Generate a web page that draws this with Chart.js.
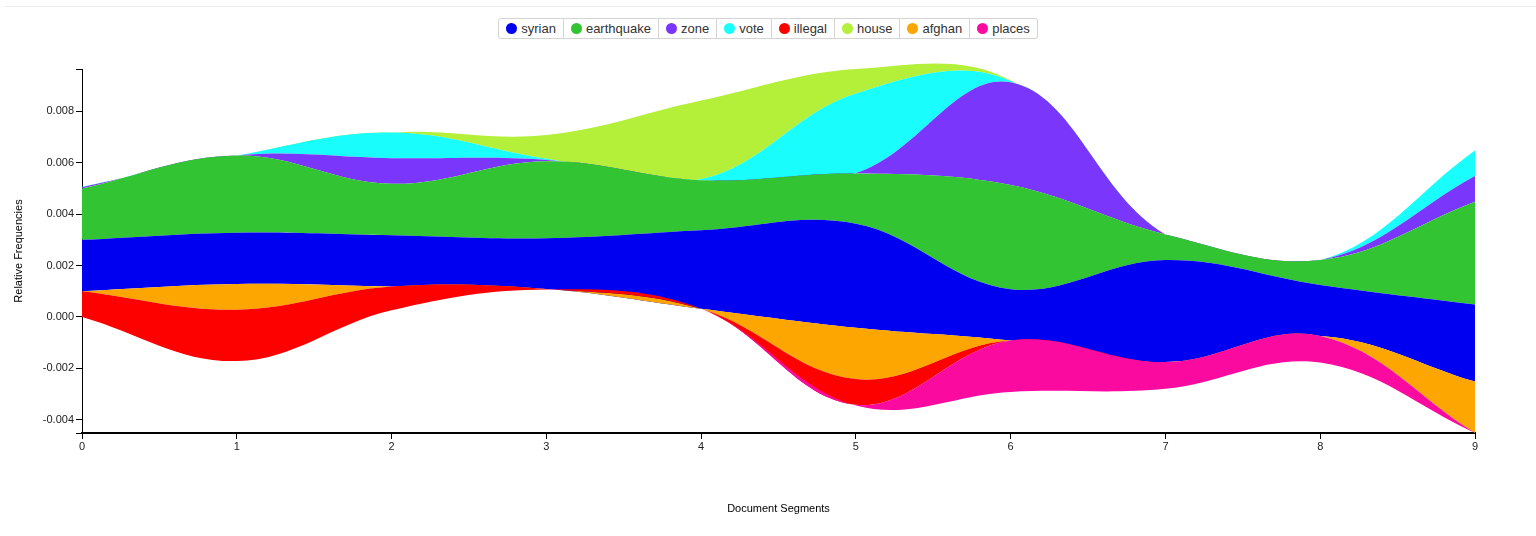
<!DOCTYPE html>
<html>
<head>
<meta charset="utf-8">
<title>Streamgraph</title>
<script src="https://cdn.jsdelivr.net/npm/chart.js@4.4.1/dist/chart.umd.min.js"></script>
<style>
    html, body { margin: 0; padding: 0; background: #fff; }
    body { width: 1536px; height: 536px; position: relative; overflow: hidden; font-family: "Liberation Sans", Arial, sans-serif; }
    #topline { position: absolute; left: 5px; right: 0; top: 6px; border-top: 1px solid #ececec; }
    #stream { position: absolute; left: 0; top: 0; }
    #legend { position: absolute; top: 18px; left: 0; width: 1536px; display: flex; justify-content: center; }
    .item { display: flex; align-items: center; height: 19px; padding: 0 7px; border: 1px solid #d4d4d4; border-left: none; font-size: 13px; color: #333; }
    .item:first-child { border-left: 1px solid #d4d4d4; border-radius: 3px 0 0 3px; }
    .item:last-child { border-radius: 0 3px 3px 0; }
    .dot { width: 11px; height: 11px; border-radius: 50%; margin-right: 4px; }
</style>
</head>
<body>
<div id="topline"></div>
<div id="legend"></div>
<canvas id="stream" width="1536" height="536"></canvas>
<script>
// Data =========================================================//

const segments = ['0', '1', '2', '3', '4', '5', '6', '7', '8', '9'];

// relative frequency of each term per document segment
const syrian     = [0.00200, 0.00200, 0.00200, 0.00197, 0.00305, 0.00405, 0.00200, 0.00397, 0.00198, 0.00300];
const earthquake = [0.00200, 0.00300, 0.00200, 0.00300, 0.00195, 0.00195, 0.00405, 0.00100, 0.00097, 0.00400];
const zone       = [0.00005, 0.00000, 0.00100, 0.00005, 0.00000, 0.00002, 0.00400, 0.00000, 0.00000, 0.00100];
const vote       = [0.00002, 0.00000, 0.00100, 0.00005, 0.00005, 0.00310, 0.00005, 0.00000, 0.00000, 0.00100];
const illegal    = [0.00100, 0.00200, 0.00092, 0.00002, 0.00000, 0.00100, 0.00000, 0.00000, 0.00000, 0.00000];
const house      = [0.00000, 0.00000, 0.00000, 0.00092, 0.00305, 0.00095, 0.00003, 0.00000, 0.00000, 0.00000];
const afghan     = [0.00000, 0.00100, 0.00000, 0.00000, 0.00000, 0.00200, 0.00000, 0.00000, 0.00000, 0.00200];
const places     = [0.00000, 0.00000, 0.00000, 0.00000, 0.00000, 0.00003, 0.00200, 0.00104, 0.00104, 0.00000];

// bottom edge of the stream (wiggle offset)
const baseline   = [0.00000, -0.00172, 0.00026, 0.00107, 0.00032, -0.00345, -0.00292, -0.00280, -0.00178, -0.00452];

const yTickValues = [-0.004, -0.002, 0.000, 0.002, 0.004, 0.006, 0.008];

const legendOrder = ['syrian', 'earthquake', 'zone', 'vote', 'illegal', 'house', 'afghan', 'places'];
const stackOrder = ['places', 'illegal', 'afghan', 'syrian', 'earthquake', 'zone', 'vote', 'house'];

const series = { syrian, earthquake, zone, vote, illegal, house, afghan, places };

const colors = {
    syrian: '#0000f0',
    earthquake: '#33c433',
    zone: '#7b36fb',
    vote: '#19fdfd',
    illegal: '#fd0000',
    house: '#b4ef3a',
    afghan: '#fda500',
    places: '#fb0aa0'
};

// Legend =========================================================//

const legendBox = document.getElementById('legend');
legendOrder.forEach(key => {
    const item = document.createElement('div');
    item.className = 'item';
    const dot = document.createElement('span');
    dot.className = 'dot';
    dot.style.background = colors[key];
    item.appendChild(dot);
    item.appendChild(document.createTextNode(key));
    legendBox.appendChild(item);
});

// Stream chart =========================================================//

const datasets = [{
    label: 'baseline',
    data: baseline,
    borderWidth: 0,
    pointRadius: 0,
    fill: false
}];

let lower = baseline;
stackOrder.forEach(key => {
    const upper = lower.map((v, i) => v + series[key][i]);
    datasets.push({
        label: key,
        data: upper,
        fill: '-1',
        backgroundColor: colors[key],
        borderColor: colors[key],
        borderWidth: 0,
        pointRadius: 0,
        clip: false
    });
    lower = upper;
});

const yMin = Math.min(...baseline);
const yMax = Math.max(...lower);

const FONT = { family: '"Liberation Sans", Arial, sans-serif', size: 11 };

// let the smooth curves run a few pixels past the top of the axis, like the original
let savedArea = null;
const overshoot = {
    id: 'overshoot',
    beforeDatasetsDraw(chart) {
        savedArea = chart.chartArea;
        chart.chartArea = Object.assign({}, savedArea, { top: savedArea.top - 10 });
    },
    afterDatasetsDraw(chart) {
        if (savedArea) chart.chartArea = savedArea;
    }
};

const streamConfig = {
    type: 'line',
    data: { labels: segments, datasets: datasets },
    plugins: [overshoot],
    options: {
        responsive: false,
        animation: false,
        layout: { padding: { top: 69, right: 61, bottom: 0, left: 0 } },
        elements: { line: { tension: 0.38, capBezierPoints: false } },
        plugins: { legend: { display: false }, tooltip: { enabled: false } },
        scales: {
            x: {
                offset: false,
                border: { display: true, color: '#000', width: 2 },
                grid: { display: true, drawOnChartArea: false, drawTicks: true, tickLength: 6, color: '#000', offset: false },
                ticks: { color: '#222', font: FONT, padding: 1, maxRotation: 0 },
                title: { display: true, text: 'Document Segments', color: '#000', font: FONT, padding: { top: 0, bottom: 20 } },
                afterFit: scale => { scale.height = 103; }
            },
            y: {
                min: yMin,
                max: yMax,
                border: { display: true, color: '#000', width: 1 },
                grid: { display: true, drawOnChartArea: false, drawTicks: true, tickLength: 6, color: '#000' },
                ticks: {
                    color: '#222',
                    font: FONT,
                    padding: 2,
                    callback: v => yTickValues.some(t => Math.abs(t - v) < 1e-9) ? v.toFixed(3) : ''
                },
                afterBuildTicks: scale => {
                    scale.ticks = [yMin, ...yTickValues, yMax].map(v => ({ value: v }));
                },
                title: { display: true, text: 'Relative Frequencies', color: '#000', font: FONT, padding: { top: 12, bottom: 0 } },
                afterFit: scale => { scale.width = 82; }
            }
        }
    }
};

const streamChart = new Chart(document.getElementById('stream'), streamConfig);
</script>
</body>
</html>
